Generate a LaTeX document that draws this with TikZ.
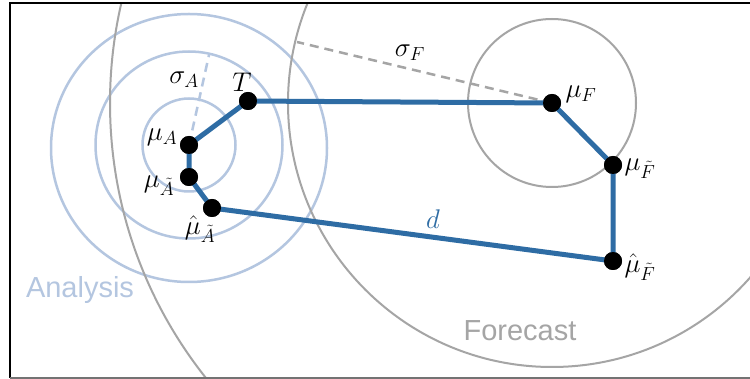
\documentclass[tikz,border=0pt]{standalone}
\usepackage{fix-cm}
\usepackage{fontspec}
\setsansfont{Liberation Sans}
\begin{document}
\begin{tikzpicture}[x=1pt,y=-1pt,
  dot/.style={circle,fill=black,inner sep=0pt,minimum size=18pt},
  blueline/.style={draw=bluec,line width=5pt,line join=round},
  anacirc/.style={draw=lightb,line width=2.5pt},
  forecirc/.style={draw=grayc,line width=2pt},
  anadash/.style={draw=lightb,line width=2.5pt,dash pattern=on 9pt off 6pt},
  foredash/.style={draw=grayc,line width=2.5pt,dash pattern=on 9pt off 6pt},
  mlab/.style={inner sep=0pt,font=\fontsize{27}{32}\selectfont},
  biglab/.style={inner sep=0pt,font=\sffamily\fontsize{29}{34}\selectfont}
]
\definecolor{bluec}{HTML}{2E6CA4}
\definecolor{lightb}{HTML}{B4C6E0}
\definecolor{grayc}{HTML}{A5A5A5}
\useasboundingbox (0,0) rectangle (750,379);
\fill[white] (0,0) rectangle (750,379);

% points
\coordinate (cA) at (189,145);
\coordinate (cAo) at (189,148);
\coordinate (cF) at (552,103);
\coordinate (sA) at (209,55);
\coordinate (sF) at (297,42);

\begin{scope}
\clip (10,4) rectangle (750,378);
% analysis circles
\draw[anacirc] (cA) circle[radius=46.5];
\draw[anacirc] (cA) circle[radius=93.5];
\draw[anacirc] (cAo) ellipse[x radius=138,y radius=134];
% forecast circles
\draw[forecirc] (cF) circle[radius=84];
\draw[forecirc] (cF) circle[radius=264];
\draw[forecirc] (cF) circle[radius=442];
\end{scope}

% dashed radii
\draw[anadash] (cA) -- (sA);
\draw[foredash] (cF) -- (sF);

% nodes
\node[dot] (T) at (248,101) {};
\node[dot] (muA) at (cA) {};
\node[dot] (muAt) at (189,177) {};
\node[dot] (muAh) at (212,208) {};
\node[dot] (muF) at (cF) {};
\node[dot] (muFt) at (613,165) {};
\node[dot] (muFh) at (613,261) {};

\draw[blueline] (T.center) -- (muA.center) -- (muAt.center) -- (muAh.center)
  -- (muFh.center) -- (muFt.center) -- (muF.center) -- cycle;
\foreach \n in {T,muA,muAt,muAh,muF,muFt,muFh} \fill (\n) circle[radius=9];

% labels
\node[mlab] (lT) at (242,82) {$T$};
\node[mlab] (lsA) at (184,80) {$\sigma_A$};
\node[mlab] (lmuA) at (162,137) {$\mu_A$};
\node[mlab] (lmuAt) at (159,186) {$\mu_{\tilde A}$};
\node[mlab] (lmuAh) at (200,229) {$\hat\mu_{\tilde A}$};
\node[mlab] (lsF) at (410,53) {$\sigma_F$};
\node[mlab] (lmuF) at (581,94) {$\mu_F$};
\node[mlab] (lmuFt) at (640,169) {$\mu_{\tilde F}$};
\node[mlab] (lmuFh) at (640,267) {$\hat\mu_{\tilde F}$};
\node[mlab,text=bluec] (ld) at (433,219) {$d$};
\node[biglab,text=lightb] (lana) at (80,290) {Analysis};
\node[biglab,text=grayc] (lfor) at (520,331) {Forecast};

% frame
\draw[black,line width=2pt] (9.5,378) -- (9.5,3.5) -- (750,3.5);
\draw[black!55,line width=1.2pt] (9.5,378) -- (750,378);
\end{tikzpicture}
\end{document}
